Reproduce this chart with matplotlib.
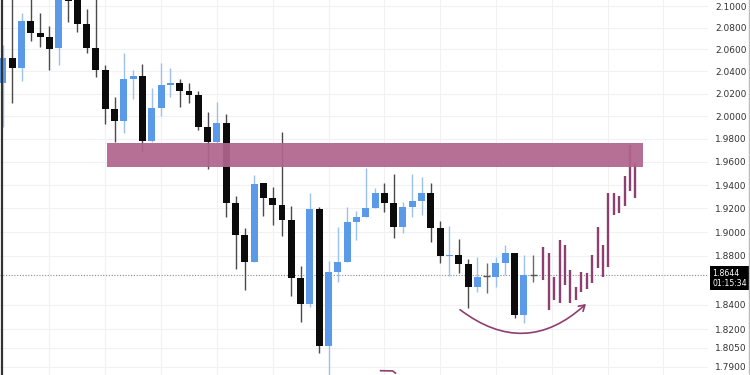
import numpy as np
import matplotlib.pyplot as plt
from matplotlib.lines import Line2D
from matplotlib.patches import FancyArrowPatch, Rectangle

# candle data (open, high, low, close)
opens = [2.0297, 2.0522, 2.0432, 2.0861, 2.0751, 2.0714, 2.0613, 2.1120, 2.1080, 2.0833,
         2.0613, 2.0414, 2.0064, 1.9958, 2.0333, 2.0360, 1.9782, 2.0073, 2.0279, 2.0297,
         2.0225, 2.0189, 1.9905, 1.9773, 1.9940, 1.9247, 1.8975, 1.8750, 1.9417, 1.9289,
         1.9229, 1.9102, 1.8617, 1.8404, 1.9195, 1.8065, 1.8667, 1.8750, 1.9085, 1.9127,
         1.9204, 1.9332, 1.9247, 1.9043, 1.9212, 1.9264, 1.9332, 1.9035, 1.8800, 1.8808,
         1.8733, 1.8544, 1.8634, 1.8626, 1.8741, 1.8825, 1.8315, 1.8642]
highs = [2.0641, 2.1103, 2.0935, 2.1120, 2.0935, 2.0815, 2.1200, 2.1180, 2.1150, 2.0972,
         2.1120, 2.0459, 2.0171, 2.0568, 2.0414, 2.0468, 2.0252, 2.0477, 2.0432, 2.0333,
         2.0297, 2.0225, 2.0038, 2.0127, 2.0020, 1.9306, 1.9035, 1.9486, 1.9417, 1.9383,
         1.9861, 1.9221, 1.8716, 1.9332, 1.9210, 1.8758, 1.9043, 1.9212, 1.9178, 1.9546,
         1.9375, 1.9417, 1.9494, 1.9255, 1.9494, 1.9469, 1.9417, 1.9094, 1.9052, 1.8942,
         1.8775, 1.8791, 1.8741, 1.8791, 1.8892, 1.8825, 1.8808, 1.8808]
lows = [1.9905, 2.0118, 2.0315, 2.0677, 2.0622, 2.0414, 2.0459, 2.0852, 2.0760, 2.0568,
        2.0351, 1.9931, 1.9773, 1.9852, 2.0153, 1.9686, 1.9773, 2.0002, 2.0171, 2.0082,
        2.0118, 1.9879, 1.9538, 1.9764, 1.9127, 1.8691, 1.8519, 1.8750, 1.9136, 1.9060,
        1.8967, 1.8470, 1.8259, 1.8380, 1.8010, 1.7780, 1.8584, 1.8750, 1.8934, 1.9127,
        1.9204, 1.9170, 1.8950, 1.8992, 1.9127, 1.9144, 1.8917, 1.8741, 1.8634, 1.8659,
        1.8372, 1.8502, 1.8494, 1.8544, 1.8642, 1.8291, 1.8251, 1.8584]
closes = [2.0522, 2.0432, 2.0861, 2.0751, 2.0714, 2.0604, 2.1120, 2.1047, 2.0833, 2.0613,
          2.0414, 2.0064, 1.9958, 2.0333, 2.0360, 1.9782, 2.0073, 2.0279, 2.0297, 2.0225,
          2.0189, 1.9905, 1.9773, 1.9940, 1.9247, 1.8975, 1.8750, 1.9409, 1.9289, 1.9229,
          1.9102, 1.8617, 1.8404, 1.9195, 1.8065, 1.8667, 1.8750, 1.9085, 1.9127, 1.9204,
          1.9332, 1.9247, 1.9043, 1.9212, 1.9264, 1.9332, 1.9035, 1.8800, 1.8808, 1.8733,
          1.8544, 1.8626, 1.8634, 1.8741, 1.8825, 1.8315, 1.8642, 1.8644]

# hand-drawn projection bars (high, low)
proj_high = [1.8875, 1.8825, 1.8626, 1.8934, 1.8892, 1.8684, 1.8544, 1.8667, 1.8659,
             1.8808, 1.9043, 1.8892, 1.9332, 1.9332, 1.9306, 1.9478, 1.9747, 1.9591]
proj_low = [1.8601, 1.8355, 1.8437, 1.8412, 1.8560, 1.8412, 1.8437, 1.8502, 1.8527,
            1.8576, 1.8700, 1.8626, 1.8708, 1.9144, 1.9161, 1.9221, 1.9349, 1.9289]

zone_top = 1.9764
zone_bottom = 1.9555
current_price = 1.8644
current_time = "01:15:34"

price_ticks = [2.10, 2.08, 2.06, 2.04, 2.02, 2.00, 1.98, 1.96, 1.94, 1.92, 1.90, 1.88,
               1.84, 1.82, 1.805, 1.79]

BLUE = "#5b9ae8"
BLUE_WICK = "#9cc0ef"
BLACK = "#0b0b0b"
BLACK_WICK = "#4a4a4a"
PURPLE = "#8e3f70"
ZONE = "#b1648d"

fig = plt.figure(figsize=(7.5, 3.75), dpi=100)
ax = fig.add_axes([0, 0, 708 / 750, 1])
ax.set_yscale("log")

idx = np.arange(len(opens))
o = np.array(opens)
h = np.array(highs)
l = np.array(lows)
c = np.array(closes)
up = c > o
doji = np.isclose(o, c, atol=0.0003)

# wicks
for i in idx:
    col = BLUE_WICK if up[i] else BLACK_WICK
    if doji[i]:
        col = "#6b6b6b"
    ax.vlines(i, l[i], h[i], color=col, lw=1.0, zorder=2)

# bodies
body_w = 0.75
for i in idx:
    if doji[i]:
        ax.hlines(o[i], i - body_w / 2, i + body_w / 2, color="#555555", lw=1.0, zorder=3)
        continue
    col = BLUE if up[i] else BLACK
    lo_b = min(o[i], c[i])
    ax.bar(i, abs(c[i] - o[i]), bottom=lo_b, width=body_w, color=col, zorder=3)

# projection bars
proj_x = 58.1 + 0.582 * np.arange(len(proj_high))
ax.vlines(proj_x, proj_low, proj_high, color=PURPLE, lw=1.7, zorder=4)

# supply zone
ax.add_patch(Rectangle((11.2, zone_bottom), 68.8 - 11.2, zone_top - zone_bottom,
                       facecolor=ZONE, edgecolor="none", alpha=0.93, zorder=5))

# curved arrow under the base
arrow = FancyArrowPatch((48.9, 1.8372), (62.9, 1.8420),
                        connectionstyle="arc3,rad=0.43", arrowstyle="->,head_length=4,head_width=2.5",
                        color=PURPLE, lw=1.2, zorder=6)
ax.add_patch(arrow)
# fragment of another arrow at the bottom edge
ax.plot([40.6, 41.9, 42.2], [1.7869, 1.7867, 1.7850], color=PURPLE, lw=1.2, zorder=6)

# current price line
ax.axhline(current_price, color="#8a8a8a", lw=0.8, ls=(0, (1, 1.5)), zorder=1)

ax.set_xlim(-0.32, 75.8)
ax.set_ylim(1.7835, 2.1056)

ax.set_yticks(price_ticks)
ax.set_yticklabels(["%.4f" % t for t in price_ticks])
ax.yaxis.set_minor_locator(plt.NullLocator())
ax.yaxis.tick_right()
ax.tick_params(axis="y", length=0, pad=5, labelsize=6.5, labelcolor="#333333")
ax.set_xticks(np.arange(5, 76, 6))
ax.tick_params(axis="x", length=0, labelbottom=False)
ax.grid(True, color="#f0f1f3", lw=0.8, zorder=0)
ax.set_axisbelow(True)
for s in ax.spines.values():
    s.set_visible(False)

ax.text(1.006, 1.8615, "%.4f\n%s" % (current_price, current_time),
        transform=ax.get_yaxis_transform(), fontsize=5.6, color="white",
        va="center", ha="left", linespacing=1.15, clip_on=False,
        bbox=dict(boxstyle="square,pad=0.3", facecolor="black", edgecolor="none"))

fig.add_artist(Line2D([0.002, 0.002], [0, 1], color="#333333", lw=1.6))
fig.add_artist(Line2D([0.998, 0.998], [0, 1], color="#bbbbbb", lw=1.0))

fig.savefig("out.png", dpi=100)
